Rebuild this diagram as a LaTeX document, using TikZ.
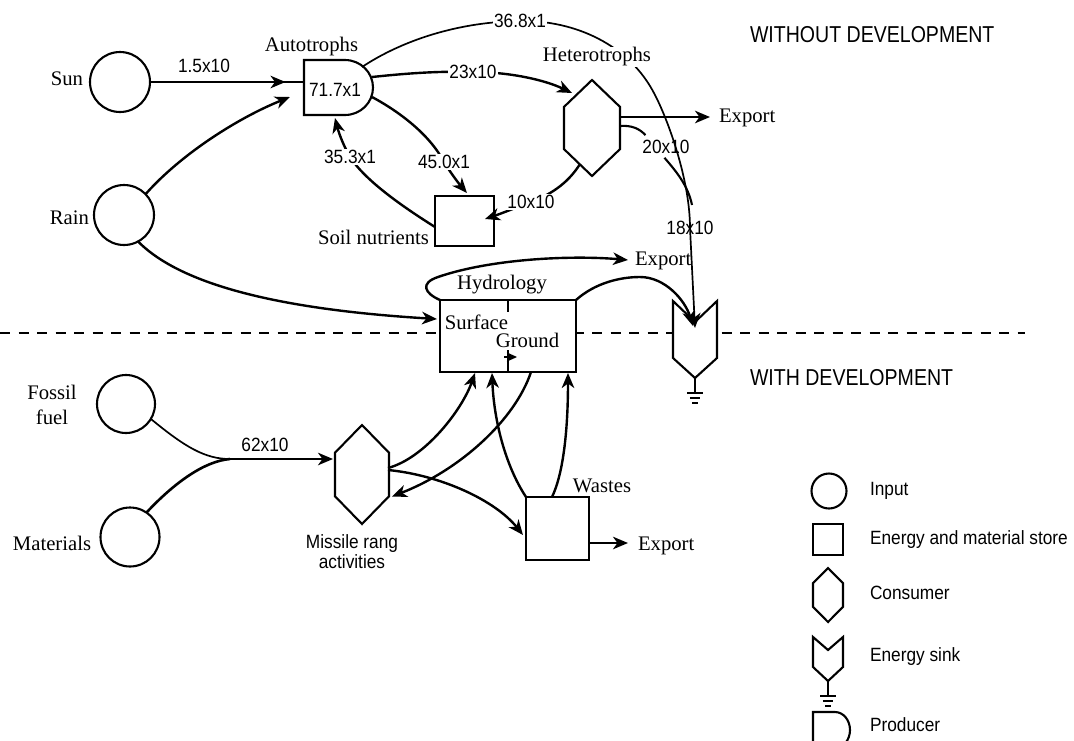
\documentclass[tikz,border=0pt]{standalone}
\usepackage{fontspec}
\setmainfont{Liberation Serif}
\setsansfont{Liberation Sans}[FakeStretch=0.9]
\newfontfamily\hdrfont{Liberation Sans}[FakeStretch=0.85]
\usetikzlibrary{arrows.meta,calc,decorations.markings}

% consumer outline drawn on a rectangular node
\newcommand\hexdraw[1]{%
  \draw[shapeline,fill=white] (#1.north)
    -- ($(#1.north east)!0.28!(#1.south east)$)
    -- ($(#1.south east)!0.28!(#1.north east)$)
    -- (#1.south)
    -- ($(#1.south west)!0.28!(#1.north west)$)
    -- ($(#1.north west)!0.28!(#1.south west)$) -- cycle;}

% energy sink: name, notch depth, side cut, stem length, bar half width
\newcommand\sinkdraw[5]{%
  \draw[shapeline,fill=white] (#1.north west) -- ($(#1.north)+(0,#2)$)
    -- (#1.north east) -- ($(#1.south east)+(0,-#3)$) -- (#1.south)
    -- ($(#1.south west)+(0,-#3)$) -- cycle;
  \draw[line width=1.7pt] (#1.south) -- ($(#1.south)+(0,#4)$)
    ($(#1.south)+(-#5,#4)$) -- ($(#1.south)+(#5,#4)$)
    ($(#1.south)+(-0.65*#5,#4+5)$) -- ($(#1.south)+(0.65*#5,#4+5)$)
    ($(#1.south)+(-0.35*#5,#4+10)$) -- ($(#1.south)+(0.35*#5,#4+10)$);}

\begin{document}
\begin{tikzpicture}[x=1pt,y=-1pt,
  >={Stealth[length=15pt,width=12.5pt,inset=4.5pt]},
  every node/.style={inner sep=0pt,outer sep=0pt},
  shapeline/.style={line width=2.1pt,line join=miter},
  flowarrow/.style={line width=2.4pt,->},
  thinflow/.style={line width=1.7pt},
  rmtext/.style={font=\fontsize{20.7}{25}\selectfont},
  sftext/.style={font=\sffamily\fontsize{19.2}{20}\selectfont},
  hdrtext/.style={font=\hdrfont\fontsize{23}{26}\selectfont},
  numlabel/.style={sftext,fill=white,inner sep=1.5pt},
  storebox/.style={draw,shapeline,fill=white},
  inputcirc/.style={circle,draw,shapeline,fill=white,minimum size=#1},
  sized/.style 2 args={minimum width=#1pt,minimum height=#2pt},
  midtip/.style={postaction={decorate},
    decoration={markings,mark=at position #1 with {\arrow{>}}}}
]
\useasboundingbox (0,0) rectangle (1074,740);
\fill[white] (0,0) rectangle (1074,740);

% boundary between the two scenarios
\draw[line width=1.7pt,dash pattern=on 10pt off 8.5pt] (0,333) -- (1025,333);

% ---- inputs
\node[inputcirc=60pt] (sun) at (120,82) {};
\node[inputcirc=60pt] (rain) at (124,215) {};
\node[inputcirc=58pt] (fossil) at (126,404) {};
\node[inputcirc=59pt] (mat) at (130,537) {};

% ---- producer
\node[sized={69}{55}] (auto) at (338.5,87.5) {};
\draw[shapeline,fill=white] (auto.south west) -- (auto.north west) -- (345,60)
  .. controls (360.5,60) and (373,72.3) .. (auto.east)
  .. controls (373,102.7) and (360.5,115) .. (345,115) -- cycle;

% ---- consumers, stores, sink
\node[sized={56}{96}] (het) at (592,128) {};
\hexdraw{het}
\node[storebox,sized={59}{50}] (soil) at (464.5,221) {};
\node[storebox,sized={136}{72}] (hydro) at (508,336) {};
\node[sized={44}{77}] (sink) at (695,339.5) {};
\sinkdraw{sink}{21}{20}{15}{8}
\node[sized={54}{99}] (mis) at (362,474.5) {};
\hexdraw{mis}
\node[storebox,sized={63}{63}] (wastes) at (557.5,528.5) {};

% ---- plain text labels
\node[rmtext,anchor=east] (sunlab) at (83,79) {Sun};
\node[rmtext,anchor=east] (rainlab) at (89,218) {Rain};
\node[rmtext,align=center] (fflab) at (52,405) {Fossil\\fuel};
\node[rmtext] (matlab) at (52,543) {Materials};
\node[rmtext] (autolab) at (311.5,47) {Autotrophs};
\node[sftext] (autoval) at (335,90) {71.7x1};
\node[rmtext,anchor=east] (soillab) at (429,237) {Soil nutrients};
\node[rmtext] (hylab) at (502,285) {Hydrology};
\node[rmtext] (wlab) at (602,486) {Wastes};
\node[sftext,align=center] (mislab) at (352,552) {Missile rang\\activities};
\node[rmtext,anchor=west] (exph) at (719,118) {Export};
\node[rmtext,anchor=west] (exphy) at (635,261) {Export};
\node[rmtext,anchor=west] (expw) at (638,546) {Export};
\node[sftext] (l2010) at (666,147) {20x10};
\node[sftext] (l1810) at (690,228) {18x10};
\node[hdrtext,anchor=west] (hwo) at (750,35) {WITHOUT DEVELOPMENT};
\node[hdrtext,anchor=west] (hw) at (750,378) {WITH DEVELOPMENT};

% ---- hydrology compartments
\draw[line width=1.7pt] (hydro.north) -- (hydro.south);
\node[rmtext,fill=white,inner sep=2.5pt] (surf) at (476.5,322) {Surface};
\node[rmtext,fill=white,inner sep=2.5pt] (grnd) at (527.5,340) {Ground};
\draw[line width=1.7pt,-{Stealth[length=10pt,width=9pt,inset=3pt]}]
  ($(hydro.south)+(-4,-15)$) -- ($(hydro.south)+(9,-15)$);

% ---- points where flow labels sit
\coordinate (p368) at (520,21);
\coordinate (p2310) at (473,72);
\coordinate (p450) at (444,162);
\coordinate (p353) at (350,157);
\coordinate (p1010) at (531,202);
\coordinate (bendA) at (655,95);
\coordinate (mergeAB) at (692,205);
\coordinate (loopc) at (438,277);
\coordinate (hpeak) at (640,277);
\coordinate (mrg) at (230,459);

% ---- flows, upper system
\draw[line width=2.4pt,midtip=0.88] (sun.east) -- (sun.east -| auto.west);
\draw[flowarrow] (rain.44) .. controls (182,153) and (240,117) .. ($(auto.west)+(-14,9.5)$);
\draw[flowarrow] (rain.-62) .. controls (183,287) and (288,310) .. ($(hydro.west)+(-3,-17)$);
\draw[thinflow,->] ($(auto.north east)+(-11,7)$) .. controls (395,45) and (450,22) .. (p368)
  .. controls (575,20) and (630,45) .. (bendA)
  .. controls (668,120) and (690,180) .. (l1810.center) -- ($(sink.north)+(0,27)$);
\draw[line width=2.1pt] ($(het.east)+(0,-2)$) .. controls (632,125) and (640,129) .. ($(l2010.north west)+(3,-5)$);
\draw[line width=2.1pt] ($(l2010.south west)+(22,4)$) .. controls (675,170) and (688,185) .. (mergeAB);
\draw[flowarrow] ($(auto.east)+(-1,-10.5)$) .. controls (410,73) and (440,71) .. (p2310)
  .. controls (510,72) and (545,80) .. ($(het.north west)+(8,13)$);
\draw[flowarrow] ($(auto.east)+(-1,9.5)$) .. controls (400,112) and (430,135) .. (p450)
  .. controls (452,175) and (460,185) .. ($(soil.north)+(2.5,-3)$);
\draw[flowarrow] ($(soil.west)+(0,6)$) .. controls (400,205) and (365,180) .. (p353)
  .. controls (342,143) and (338,130) .. ($(auto.south)+(-3.5,3)$);
\draw[flowarrow] ($(het.south)+(-12,-12)$) .. controls (570,180) and (555,193) .. (p1010)
  .. controls (515,208) and (500,214) .. ($(soil.east)+(-9,-2)$);
\draw[flowarrow] ($(het.east)+(0,-11)$) -- ($(exph.west)+(-9,-1)$);
\draw[flowarrow] (hydro.north west) .. controls (424,293) and (420,283) .. (loopc)
  .. controls (490,259) and (570,255) .. ($(exphy.west)+(-7,-1)$);
\draw[flowarrow] (hydro.north east) .. controls (595,283) and (620,277) .. (hpeak)
  .. controls (665,277) and (685,300) .. ($(sink.north)+(-2,25)$);

% ---- flows, developed system
\draw[line width=1.7pt] (fossil.-31) .. controls (185,447) and (205,459) .. (mrg);
\draw[line width=2.6pt] (mat.56) .. controls (175,482) and (205,461) .. (mrg);
\draw[flowarrow] (mrg) -- ($(mis.west)+(-2,-15.5)$);
\draw[flowarrow] ($(mis.east)+(-1,-6.5)$) .. controls (425,458) and (462,410) .. ($(hydro.south)+(-33,1)$);
\draw[flowarrow] ($(hydro.south)+(23,0)$) .. controls (515,420) and (460,470) .. ($(mis.east)+(3,22)$);
\draw[flowarrow] ($(mis.east)+(-1,-4.5)$) .. controls (440,475) and (495,500) .. ($(wastes.west)+(-3,6.5)$);
\draw[flowarrow] (wastes.north west) .. controls (505,465) and (494,420) .. ($(hydro.south)+(-16,1)$);
\draw[flowarrow] ($(wastes.north)+(-5.5,0)$) .. controls (565,470) and (568,420) .. ($(hydro.south)+(60,1)$);
\draw[flowarrow] ($(wastes.east)+(0,14.5)$) -- ($(expw.west)+(-10,-3)$);

% ---- flow values, over the lines
\node[numlabel] (l15) at (204,66) {1.5x10};
\node[numlabel] (l368) at (p368) {36.8x1};
\node[rmtext,fill=white,inner sep=1pt] (hetlab) at (597,57) {Heterotrophs};
\node[numlabel] (l2310) at (p2310) {23x10};
\node[numlabel] (l450) at (p450) {45.0x1};
\node[numlabel] (l353) at (p353) {35.3x1};
\node[numlabel] (l1010) at (p1010) {10x10};
\node[numlabel] (l6210) at (265,445) {62x10};

% ---- legend
\node[inputcirc=35pt] (linput) at (829,491) {};
\node[storebox,sized={30}{31}] (lstore) at (828,539.5) {};
\node[sized={30}{54}] (lcons) at (828,595) {};
\hexdraw{lcons}
\node[sized={30}{44}] (lsink) at (828,659) {};
\sinkdraw{lsink}{13}{14}{15}{8}
\node[sized={37}{36}] (lprod) at (831.5,730) {};
\draw[shapeline,fill=white] (lprod.south west) -- (lprod.north west) -- (835,712)
  .. controls (843.3,712) and (850,720.1) .. (lprod.east)
  .. controls (850,739.9) and (843.3,748) .. (835,748) -- cycle;
\node[sftext,anchor=west] (tinput) at (870,491) {Input};
\node[sftext,anchor=west] (tstore) at (870,540) {Energy and material store};
\node[sftext,anchor=west] (tcons) at (870,593) {Consumer};
\node[sftext,anchor=west] (tsink) at (870,657) {Energy sink};
\node[sftext,anchor=west] (tprod) at (870,725) {Producer};
\end{tikzpicture}
\end{document}
